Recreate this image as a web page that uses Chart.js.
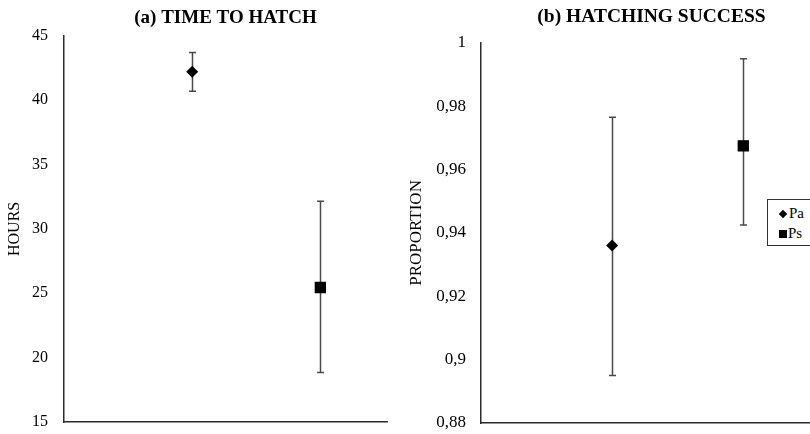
<!DOCTYPE html>
<html>
<head>
<meta charset="utf-8">
<script src="https://cdn.jsdelivr.net/npm/chart.js@4.4.0/dist/chart.umd.min.js"></script>
<style>
html,body{margin:0;padding:0;background:#fff;}
#wrap{position:relative;width:810px;height:434px;overflow:hidden;background:#fff;}
#c1{position:absolute;left:0;top:0;}
#c2{position:absolute;left:400px;top:0;}
#legend{position:absolute;left:767px;top:199px;width:70px;height:42px;padding-top:3px;border:1px solid #333;background:#fff;font-family:'Liberation Serif',serif;font-size:15px;color:#000;z-index:2;}
#legend .item{height:20px;line-height:20px;padding-left:11px;white-space:nowrap;}
#legend .dia{display:inline-block;width:6px;height:6px;background:#000;transform:rotate(45deg);margin-right:3px;margin-left:1px;vertical-align:1px;}
#legend .sq{display:inline-block;width:8px;height:8px;background:#000;margin-right:1px;vertical-align:0px;}
</style>
</head>
<body>
<div id="wrap">
  <canvas id="c1" width="400" height="434"></canvas>
  <canvas id="c2" width="430" height="434"></canvas>
  <div id="legend">
    <div class="item"><span class="dia"></span>Pa</div>
    <div class="item"><span class="sq"></span>Ps</div>
  </div>
</div>
<script>
// ---- data ----
const categories = ['Pa', 'Ps'];
const hatchTimeMean = [42.2, 25.45];
const hatchTimeLow  = [40.7, 18.85];
const hatchTimeHigh = [43.7, 32.15];
const successMean = [0.936, 0.9675];
const successLow  = [0.895, 0.9425];
const successHigh = [0.9765, 0.995];
const timeTicks = [15, 20, 25, 30, 35, 40, 45];
const successTicks = [0.88, 0.9, 0.92, 0.94, 0.96, 0.98, 1];
const successTickLabels = ['0,88', '0,9', '0,92', '0,94', '0,96', '0,98', '1'];

// ---- styles ----
const pointStyles = ['rectRot', 'rect'];
const pointRadii = [6, 8];
const FONT = 'Liberation Serif';
const AXIS_COLOR = '#2b2b2b';

function errorBarPlugin(low, high) {
  return {
    id: 'errbars',
    beforeDatasetsDraw(chart) {
      const ctx = chart.ctx;
      const ys = chart.scales.y;
      ctx.save();
      ctx.strokeStyle = '#4a4a4a';
      ctx.lineWidth = 1.5;
      chart.data.datasets.forEach((ds, i) => {
        const meta = chart.getDatasetMeta(i);
        const pt = meta.data[0];
        if (!pt) return;
        const x = Math.round(pt.x) + 0.5;
        const y1 = ys.getPixelForValue(low[i]);
        const y2 = ys.getPixelForValue(high[i]);
        ctx.beginPath();
        ctx.moveTo(x, y1); ctx.lineTo(x, y2);
        ctx.moveTo(x - 3.5, y1); ctx.lineTo(x + 3.5, y1);
        ctx.moveTo(x - 3.5, y2); ctx.lineTo(x + 3.5, y2);
        ctx.stroke();
      });
      ctx.restore();
    }
  };
}

function makeDatasets(means) {
  return categories.map((c, i) => ({
    label: c,
    data: [{ x: i + 1, y: means[i] }],
    pointStyle: pointStyles[i],
    pointRadius: pointRadii[i],
    pointHoverRadius: pointRadii[i],
    backgroundColor: '#000',
    borderColor: '#000',
    borderWidth: 0
  }));
}

function makeConfig(o) {
  return {
    type: 'scatter',
    data: { datasets: makeDatasets(o.means) },
    options: {
      responsive: false,
      animation: false,
      devicePixelRatio: 1,
      layout: { padding: { left: 0, right: o.padRight, top: 0, bottom: 0 } },
      plugins: {
        legend: { display: false },
        tooltip: { enabled: false },
        title: {
          display: true, text: o.title, fullSize: false, color: '#000',
          font: { family: FONT, size: o.titleSize, weight: 'bold', lineHeight: 1.2 },
          padding: o.titlePad
        }
      },
      scales: {
        x: {
          type: 'linear', min: 0, max: o.xMax,
          grid: { display: false, drawTicks: false },
          ticks: { display: false },
          border: { display: true, color: AXIS_COLOR, width: 1.5 },
          afterFit(s) { s.height = o.xHeight; }
        },
        y: {
          min: o.ticks[0], max: o.ticks[o.ticks.length - 1],
          grid: { display: true, drawOnChartArea: false, drawTicks: true, tickLength: o.tickPad, tickColor: 'rgba(0,0,0,0)' },
          border: { display: true, color: AXIS_COLOR, width: 1.5 },
          ticks: {
            color: '#000', padding: 0,
            font: { family: FONT, size: o.tickSize },
            callback: (v) => {
              const k = o.ticks.findIndex(t => Math.abs(t - v) < 1e-9);
              return k >= 0 ? o.labels[k] : '';
            }
          },
          afterBuildTicks(s) { s.ticks = o.ticks.map(v => ({ value: v })); },
          afterFit(s) { s.width = o.yWidth; },
          title: {
            display: true, text: o.yTitle, color: '#000',
            font: { family: FONT, size: o.yTitleSize, lineHeight: 1.2 },
            padding: { top: o.yTitlePad, bottom: 0 }
          }
        }
      }
    },
    plugins: [errorBarPlugin(o.low, o.high)]
  };
}

new Chart(document.getElementById('c1'), makeConfig({
  means: hatchTimeMean, low: hatchTimeLow, high: hatchTimeHigh,
  title: '(a) TIME TO HATCH', titleSize: 19, titlePad: { top: 7, bottom: 6 },
  ticks: timeTicks, labels: timeTicks.map(String), tickSize: 16,
  yTitle: 'HOURS', yTitleSize: 16, yTitlePad: 5, yWidth: 64, tickPad: 16,
  xMax: 2.52, xHeight: 12, padRight: 13
}));

new Chart(document.getElementById('c2'), makeConfig({
  means: successMean, low: successLow, high: successHigh,
  title: '(b) HATCHING SUCCESS', titleSize: 19.5, titlePad: { top: 5, bottom: 14.5 },
  ticks: successTicks, labels: successTickLabels, tickSize: 17,
  yTitle: 'PROPORTION', yTitleSize: 17, yTitlePad: 6, yWidth: 81, tickPad: 15,
  xMax: 2.6, xHeight: 11, padRight: 7
}));
</script>
</body>
</html>
